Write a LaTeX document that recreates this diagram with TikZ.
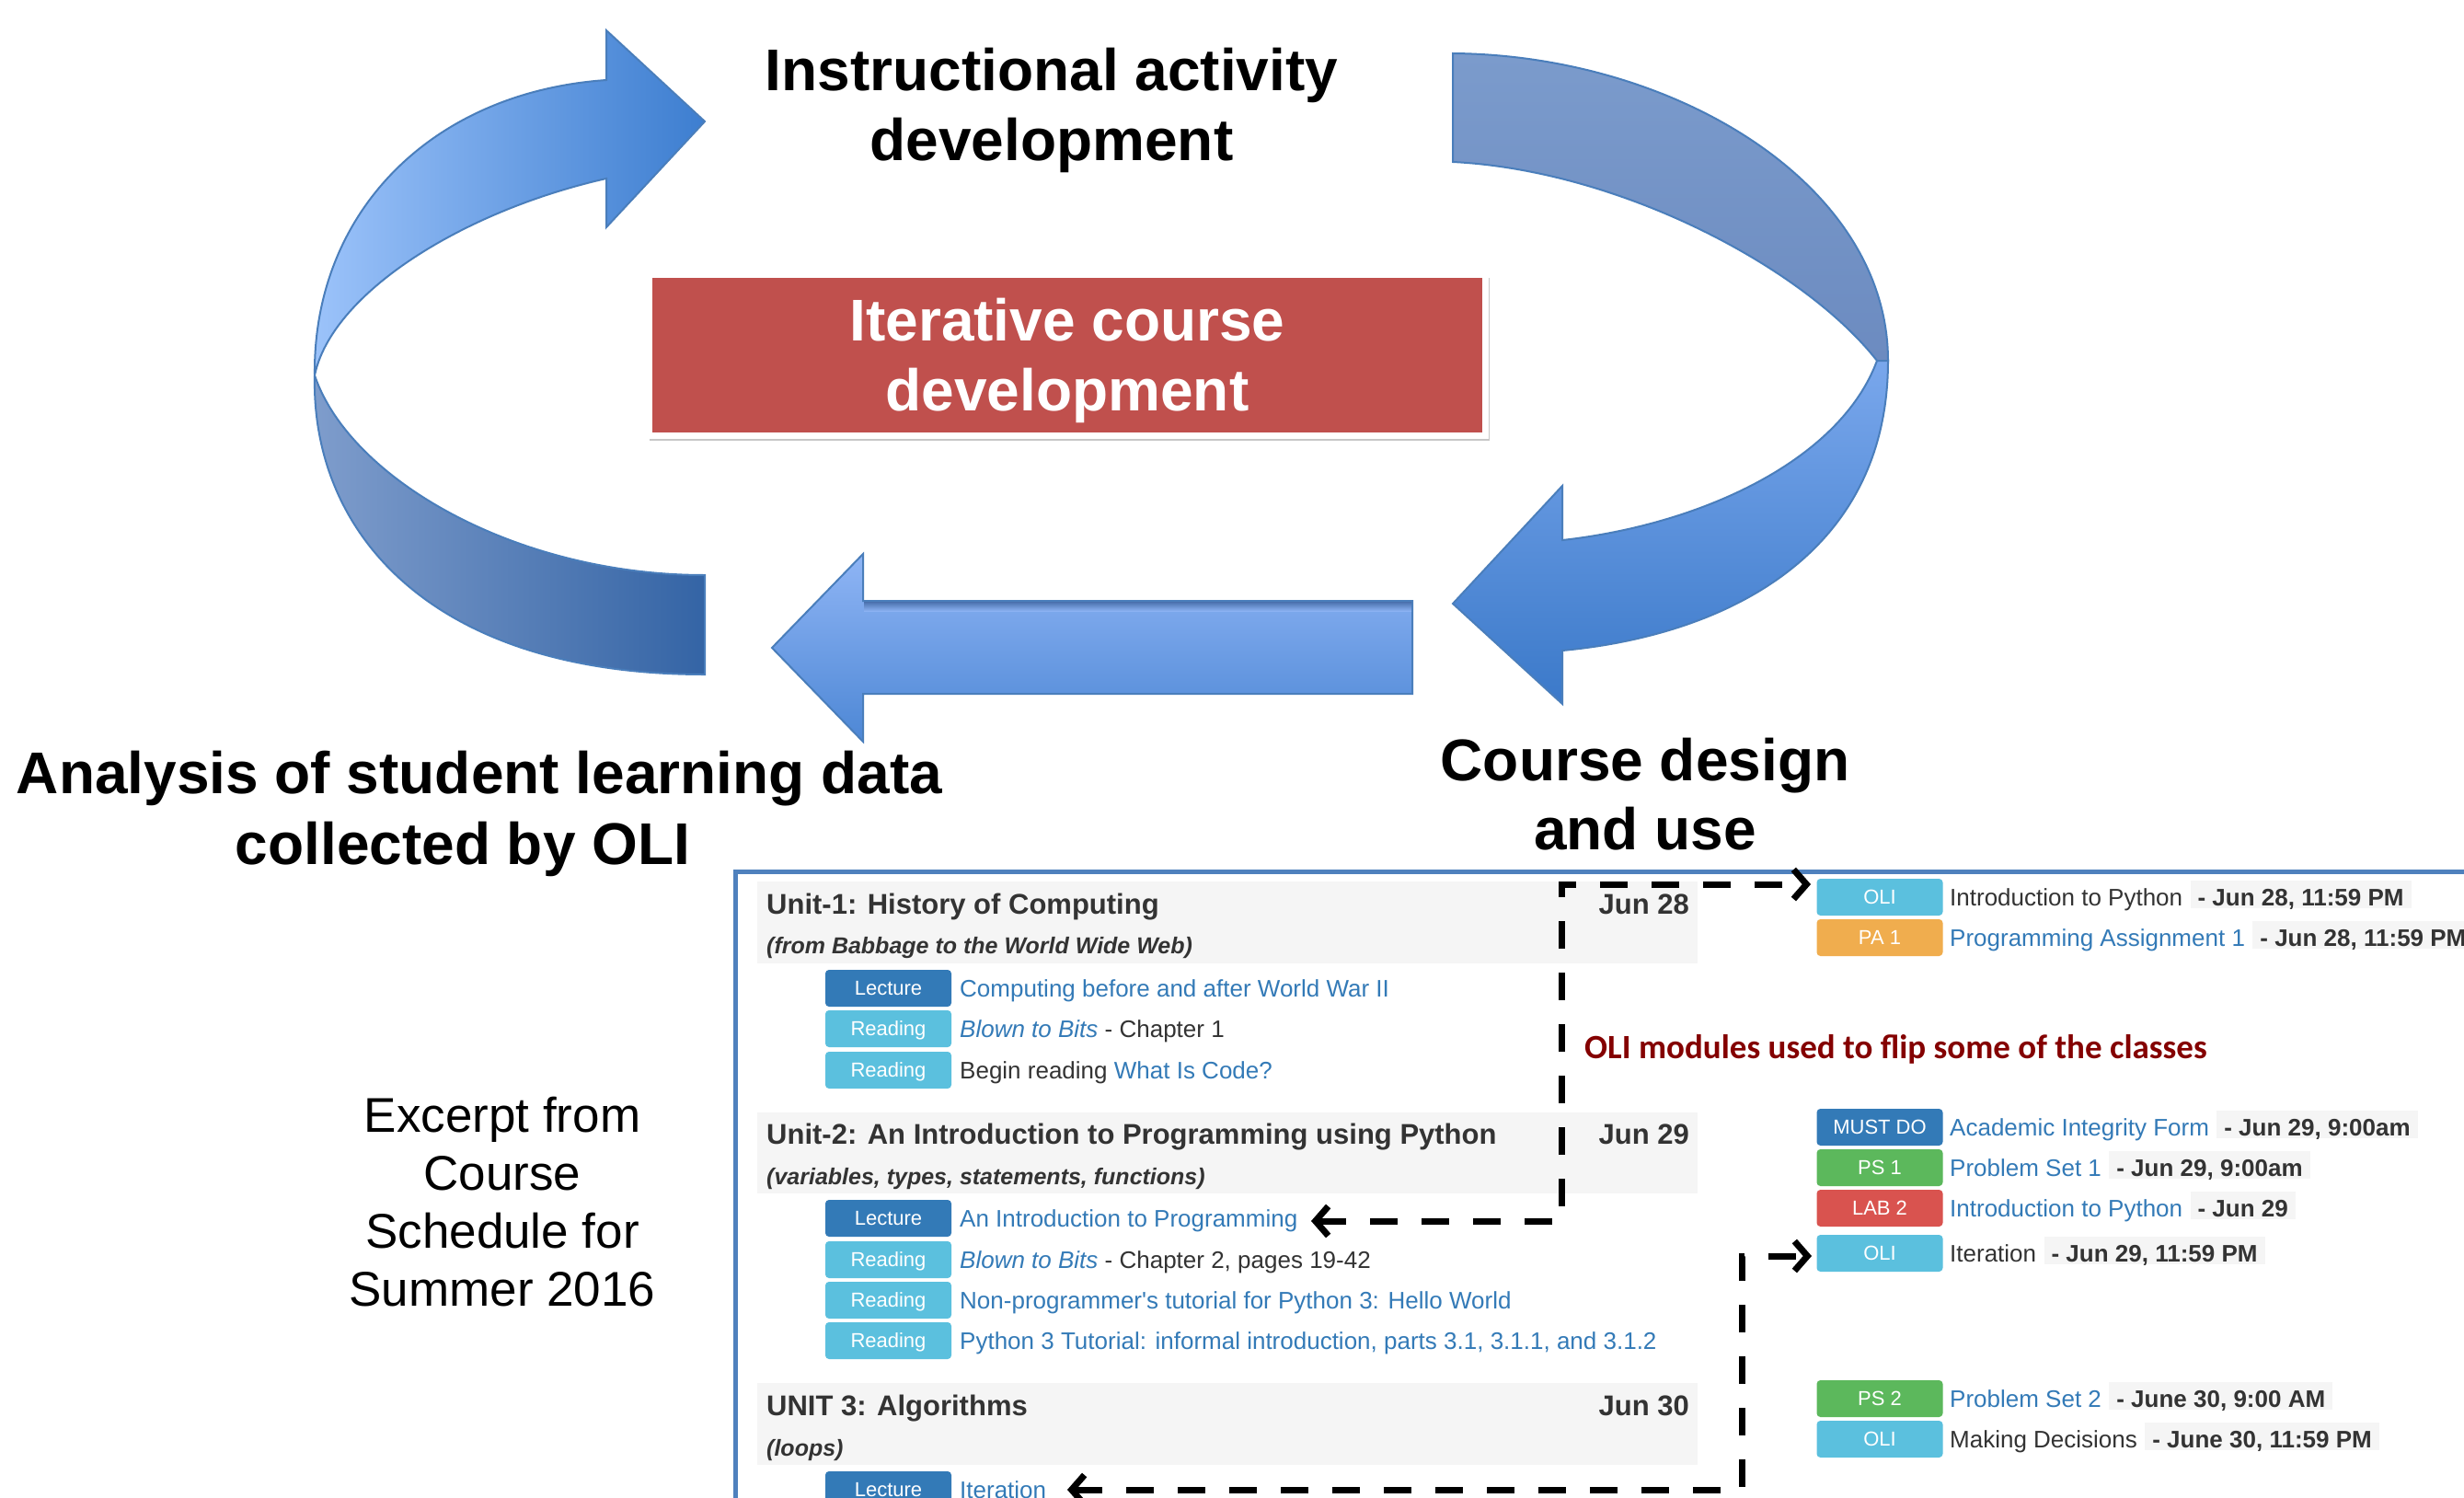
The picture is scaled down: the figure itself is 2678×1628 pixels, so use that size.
\documentclass[tikz,border=0pt]{standalone}
\usepackage{fontspec}
\setmainfont{Liberation Sans}
\newfontfamily\carlito{Carlito}
\usetikzlibrary{arrows.meta}
\definecolor{aedge}{HTML}{4A7EBB}
\definecolor{ltl}{HTML}{9CC3FA}
\definecolor{ltr}{HTML}{3D7ED0}
\definecolor{lbl}{HTML}{7F9DCC}
\definecolor{lbr}{HTML}{3464A5}
\definecolor{rtt}{HTML}{7B9BCC}
\definecolor{rtb}{HTML}{6C8BC0}
\definecolor{rbt}{HTML}{79A7EC}
\definecolor{rbb}{HTML}{3B79C9}
\definecolor{bat}{HTML}{8FB5F5}
\definecolor{bab}{HTML}{4D87D5}
\definecolor{bsh}{HTML}{3E639E}
\definecolor{redbox}{HTML}{C0504D}
\definecolor{frameblue}{HTML}{4F81BD}
\definecolor{dark}{HTML}{333333}
\definecolor{link}{HTML}{337AB7}
\definecolor{hdr}{HTML}{F5F5F5}
\definecolor{notered}{HTML}{840000}
\definecolor{cprim}{HTML}{337AB7}
\definecolor{cinfo}{HTML}{5BC0DE}
\definecolor{cwarn}{HTML}{F0AD4E}
\definecolor{csucc}{HTML}{5CB85C}
\definecolor{cdang}{HTML}{D9534F}
\begin{document}
\begin{tikzpicture}[x=1pt,y=-1pt,
  big/.style={font=\bfseries\fontsize{64}{77}\selectfont, inner sep=0pt, anchor=base},
  excerpt/.style={font=\fontsize{53}{64}\selectfont, inner sep=0pt, anchor=base},
  uhead/.style={font=\bfseries\fontsize{31}{37}\selectfont, text=dark, inner sep=0pt, anchor=base west},
  udate/.style={font=\bfseries\fontsize{31}{37}\selectfont, text=dark, inner sep=0pt, anchor=base east},
  usub/.style={font=\bfseries\itshape\fontsize{25}{30}\selectfont, text=dark, inner sep=0pt, anchor=base west},
  badge/.style={rounded corners=4pt, minimum width=137pt, minimum height=40pt, inner sep=0pt, text=white, font=\fontsize{22}{26}\selectfont, text height=15.8pt, text depth=0pt},
  item/.style={font=\fontsize{26}{31}\selectfont, text=dark, inner sep=0pt, anchor=base west},
  ddate/.style={font=\bfseries\fontsize{26}{31}\selectfont, text=dark, fill=hdr, inner xsep=8pt, inner ysep=3pt, text height=24pt, text depth=0pt, anchor=base west},
  dconn/.style={line width=7pt, dash pattern=on 30pt off 26pt, arrows={Straight Barb[length=14pt,width=32pt]-Straight Barb[length=14pt,width=32pt]}},
  band/.style={draw=aedge, line width=2pt},
]
\useasboundingbox (0,0) rectangle (2678,1628);
\clip (0,0) rectangle (2678,1628);
\fill[white] (0,0) rectangle (2678,1628);

% ---- left curved arrow (lower band behind)
\path[band, left color=lbl, right color=lbr]
  (342,408) .. controls (338,580) and (470,733) .. (766,733)
  -- (766,625) .. controls (560,625) and (380,520) .. (342,408) -- cycle;
\path[band, left color=ltl, right color=ltr]
  (659,87) .. controls (470,100) and (340,230) .. (342,408)
  .. controls (360,320) and (500,230) .. (659,194)
  -- (659,247) -- (766,132) -- (659,33) -- cycle;

% ---- right curved arrow
\path[band, top color=rtt, bottom color=rtb]
  (1579,58) .. controls (1820,60) and (2052,200) .. (2052,392)
  -- (2040,392) .. controls (1960,290) and (1760,185) .. (1579,176) -- cycle;
\path[band, top color=rbt, bottom color=rbb]
  (2040,392) -- (2052,392) .. controls (2052,600) and (1880,690) .. (1698,707)
  -- (1698,765) -- (1579,656) -- (1698,528) -- (1698,587)
  .. controls (1850,570) and (2000,500) .. (2040,392) -- cycle;

% ---- bottom straight arrow
\path[band, top color=bat, bottom color=bab]
  (1535,653) -- (938,653) -- (938,602) -- (839,704) -- (938,806) -- (938,754) -- (1535,754) -- cycle;
\shade[top color=bsh, bottom color=bat, opacity=0.8] (939,654) rectangle (1534,664);

% ---- red box
\fill[black!22] (706,302) rectangle (1619,479);
\node[fill=redbox, draw=white, line width=7pt, minimum width=909pt, minimum height=175pt, inner sep=0pt] (iterbox) at (1160,386) {};
\node[big, text=white] (it1) at (1160,370) {Iterative course};
\node[big, text=white] (it2) at (1160,446) {development};

% ---- big labels
\node[big] (ia1) at (1143,98) {Instructional activity};
\node[big] (ia2) at (1143,174) {development};
\node[big] (an1) at (521,862) {Analysis of student learning data};
\node[big] (an2) at (503,939) {collected by OLI};
\node[big] (cd1) at (1788,848) {Course design};
\node[big] (cd2) at (1788,923) {and use};

\node[excerpt] (ex1) at (546,1230) {Excerpt from};
\node[excerpt] (ex2) at (546,1293) {Course};
\node[excerpt] (ex3) at (546,1356) {Schedule for};
\node[excerpt] (ex4) at (546,1419) {Summer 2016};

% ---- schedule panel
\draw[frameblue, line width=5pt] (799,947) rectangle (2720,1700);
\fill[hdr] (823,958) rectangle (1845,1047);
\fill[hdr] (823,1209) rectangle (1845,1297);
\fill[hdr] (823,1503) rectangle (1845,1592);

% unit 1
\node[uhead] (u1) at (833,993) {Unit-1: History of Computing};
\node[usub] (u1s) at (833,1036) {(from Babbage to the World Wide Web)};
\node[udate] (u1d) at (1836,993) {Jun 28};
\node[badge, fill=cprim] (b11) at (965.5,1074) {Lecture};
\node[item] (i11) at (1043,1083) {\color{link}Computing before and after World War II};
\node[badge, fill=cinfo] (b12) at (965.5,1118) {Reading};
\node[item] (i12) at (1043,1127) {{\color{link}\itshape Blown to Bits} - Chapter 1};
\node[badge, fill=cinfo] (b13) at (965.5,1163) {Reading};
\node[item] (i13) at (1043,1172) {Begin reading {\color{link}What Is Code?}};

% unit 2
\node[uhead] (u2) at (833,1243) {Unit-2: An Introduction to Programming using Python};
\node[usub] (u2s) at (833,1287) {(variables, types, statements, functions)};
\node[udate] (u2d) at (1836,1243) {Jun 29};
\node[badge, fill=cprim] (b21) at (965.5,1324) {Lecture};
\node[item] (i21) at (1043,1333) {\color{link}An Introduction to Programming};
\node[badge, fill=cinfo] (b22) at (965.5,1369) {Reading};
\node[item] (i22) at (1043,1378) {{\color{link}\itshape Blown to Bits} - Chapter 2, pages 19-42};
\node[badge, fill=cinfo] (b23) at (965.5,1413) {Reading};
\node[item] (i23) at (1043,1422) {\color{link}Non-programmer\textquotesingle s tutorial for Python 3: Hello World};
\node[badge, fill=cinfo] (b24) at (965.5,1457) {Reading};
\node[item] (i24) at (1043,1466) {\color{link}Python 3 Tutorial: informal introduction, parts 3.1, 3.1.1, and 3.1.2};

% unit 3
\node[uhead] (u3) at (833,1538) {UNIT 3: Algorithms};
\node[usub] (u3s) at (833,1582) {(loops)};
\node[udate] (u3d) at (1836,1538) {Jun 30};
\node[badge, fill=cprim] (b31) at (965.5,1619) {Lecture};
\node[item] (i31) at (1043,1628) {\color{link}Iteration};

% right column
\node[badge, fill=cinfo] (r1) at (2043,975) {OLI};
\node[item] (r1t) at (2119,984) {Introduction to Python};
\node[ddate] (r1d) at ([xshift=8pt]r1t.base east) {- Jun 28, 11:59 PM};
\node[badge, fill=cwarn] (r2) at (2043,1019) {PA 1};
\node[item] (r2t) at (2119,1028) {\color{link}Programming Assignment 1};
\node[ddate] (r2d) at ([xshift=8pt]r2t.base east) {- Jun 28, 11:59 PM};

\node[badge, fill=cprim] (r3) at (2043,1225) {MUST DO};
\node[item] (r3t) at (2119,1234) {\color{link}Academic Integrity Form};
\node[ddate] (r3d) at ([xshift=8pt]r3t.base east) {- Jun 29, 9:00am};
\node[badge, fill=csucc] (r4) at (2043,1269) {PS 1};
\node[item] (r4t) at (2119,1278) {\color{link}Problem Set 1};
\node[ddate] (r4d) at ([xshift=8pt]r4t.base east) {- Jun 29, 9:00am};
\node[badge, fill=cdang] (r5) at (2043,1313) {LAB 2};
\node[item] (r5t) at (2119,1322) {\color{link}Introduction to Python};
\node[ddate] (r5d) at ([xshift=8pt]r5t.base east) {- Jun 29};
\node[badge, fill=cinfo] (r6) at (2043,1362) {OLI};
\node[item] (r6t) at (2119,1371) {Iteration};
\node[ddate] (r6d) at ([xshift=8pt]r6t.base east) {- Jun 29, 11:59 PM};

\node[badge, fill=csucc] (r7) at (2043,1520) {PS 2};
\node[item] (r7t) at (2119,1529) {\color{link}Problem Set 2};
\node[ddate] (r7d) at ([xshift=8pt]r7t.base east) {- June 30, 9:00 AM};
\node[badge, fill=cinfo] (r8) at (2043,1564) {OLI};
\node[item] (r8t) at (2119,1573) {Making Decisions};
\node[ddate] (r8d) at ([xshift=8pt]r8t.base east) {- June 30, 11:59 PM};

\node[font=\carlito\bfseries\fontsize{37}{44}\selectfont, text=notered, inner sep=0pt, anchor=base west] (note) at (1722,1150) {OLI modules used to flip some of the classes};

% dashed connectors
\coordinate (t1a) at (1425,1327);
\coordinate (k1a) at (1697,1327);
\coordinate (k1b) at (1697,961);
\coordinate (t1b) at (1968,961);
\coordinate (t2a) at (1160,1619);
\coordinate (k2a) at (1893,1619);
\coordinate (k2b) at (1893,1365);
\coordinate (t2b) at (1969,1365);
\draw[dconn] (t1a) -- (k1a) -- (k1b) -- (t1b);
\draw[dconn] (t2a) -- (k2a) -- (k2b) -- (t2b);
\end{tikzpicture}
\end{document}
